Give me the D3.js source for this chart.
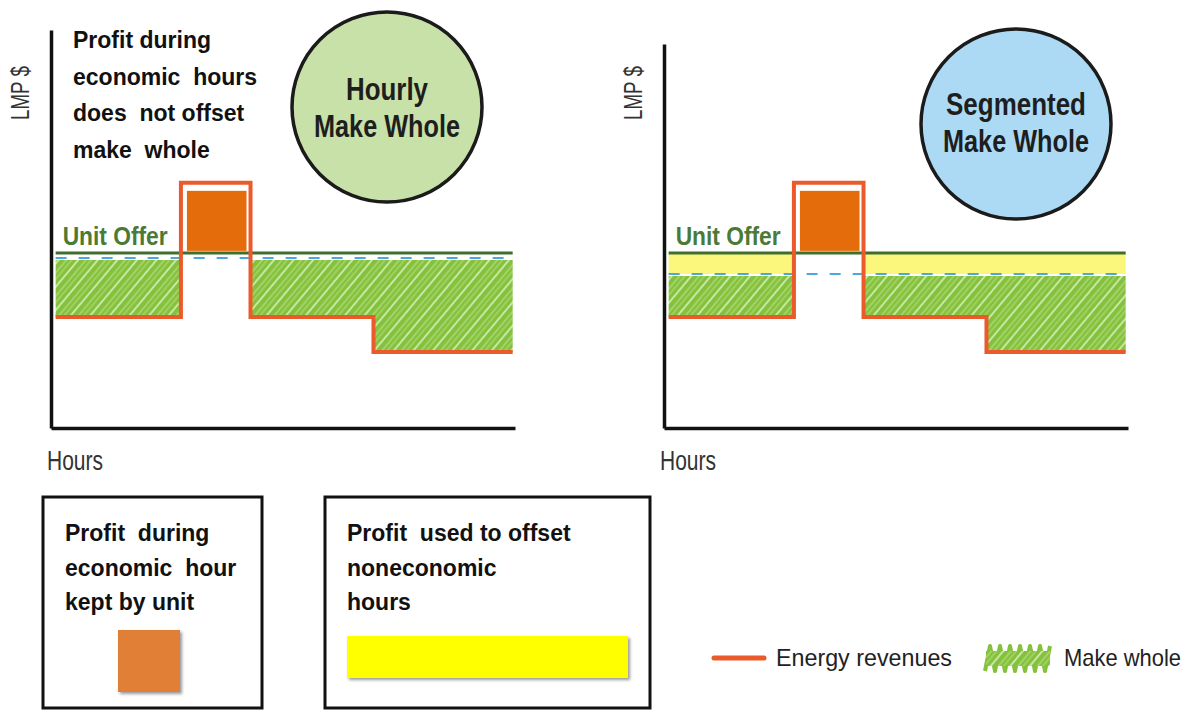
<!DOCTYPE html>
<html>
<head>
<meta charset="utf-8">
<script src="https://cdn.jsdelivr.net/npm/d3@7"></script>
<style>
  body { margin: 0; background: #fff; }
  svg text { font-family: "Liberation Sans", Arial, sans-serif; }
</style>
</head>
<body>
<svg id="chart" width="1194" height="715"></svg>
<script>
// hour boundaries of the price segments (hours on x)
var hourBreaks = [0.2, 5.6, 8.6, 13.9, 19.9];
// energy revenue (LMP $) in each segment
var energyRevenue = [27.9, 61.6, 27.9, 19.1];
var unitOffer = 44.0;
// level of the make whole top (blue dashed) per panel
var hourlyLevel = 42.7;
var segmentedLevel = 38.7;
var panelNames = ["Hourly", "Segmented"];
var circleLines = [["Hourly", "Make Whole"], ["Segmented", "Make Whole"]];
var noteLines = ["Profit during", "economic  hours", "does  not offset", "make  whole"];
var box1Lines = ["Profit  during", "economic  hour", "kept by unit"];
var box2Lines = ["Profit  used to offset", "noneconomic", "hours"];
var legendLabels = ["Energy revenues", "Make whole"];

var orangeLine = "#ea5a2b", profitFill = "#e46c0a", offerGreen = "#3f6e2f",
    dashBlue = "#4ea6dc", hatchGreen = "#84c23c", yellow = "#fbf77c";

// condensed text widths (no narrow font installed, so squeeze with textLength)
var widths = {"Hourly": 82, "Segmented": 140, "Make Whole": 146, "Unit Offer": 105,
              "Hours": 56, "LMP $": 54};

var svg = d3.select("#chart");
var defs = svg.append("defs");

// sketchy hatch pattern
var pat = defs.append("pattern")
  .attr("id", "hatch")
  .attr("patternUnits", "userSpaceOnUse")
  .attr("width", 15).attr("height", 15)
  .attr("patternTransform", "rotate(-50)");
pat.append("rect").attr("width", 15).attr("height", 15).attr("fill", hatchGreen);
pat.append("line").attr("x1", 0).attr("x2", 15).attr("y1", 2).attr("y2", 2)
  .attr("stroke", "#eef8e0").attr("stroke-width", 1.5).attr("opacity", 0.85);
pat.append("line").attr("x1", 0).attr("x2", 15).attr("y1", 8).attr("y2", 8)
  .attr("stroke", "#d9efbd").attr("stroke-width", 1).attr("opacity", 0.7);
pat.append("line").attr("x1", 0).attr("x2", 15).attr("y1", 12).attr("y2", 12)
  .attr("stroke", "#a6d468").attr("stroke-width", 2).attr("opacity", 0.8);

var shadow = defs.append("filter").attr("id", "shadow")
  .attr("x", "-20%").attr("y", "-20%").attr("width", "150%").attr("height", "150%");
shadow.append("feDropShadow").attr("dx", 2).attr("dy", 2).attr("stdDeviation", 1.5)
  .attr("flood-color", "#555").attr("flood-opacity", 0.6);

function squeeze(sel) {
  sel.attr("textLength", function(d) { return widths[d]; })
    .attr("lengthAdjust", "spacingAndGlyphs");
}

var panels = [
  {name: panelNames[0], left: 51, top: 30, level: hourlyLevel, yellow: false,
   circle: {cx: 387, cy: 107, r: 95, fill: "#c7e1a8"}, lines: circleLines[0], textY: 100, lmpX: 29},
  {name: panelNames[1], left: 664, top: 44, level: segmentedLevel, yellow: true,
   circle: {cx: 1016, cy: 124, r: 95, fill: "#acdaf5"}, lines: circleLines[1], textY: 115, lmpX: 642}
];

var bottom = 428, plotW = 464;
var y = d3.scaleLinear().domain([0, 100]).range([bottom, 30]);

panels.forEach(function(p) {
  var x = d3.scaleLinear().domain([0, 20]).range([p.left, p.left + plotW]);
  var yMax = y.invert(p.top);
  var yp = d3.scaleLinear().domain([0, yMax]).range([bottom, p.top]);
  var g = svg.append("g");

  var segs = energyRevenue.map(function(v, i) {
    return {start: hourBreaks[i], end: hourBreaks[i + 1], v: v};
  });
  var stepPts = segs.slice();
  stepPts.push({start: hourBreaks[4], v: energyRevenue[energyRevenue.length - 1]});

  // circle
  g.append("circle").attr("cx", p.circle.cx).attr("cy", p.circle.cy).attr("r", p.circle.r)
    .attr("fill", p.circle.fill).attr("stroke", "#1b1b1b").attr("stroke-width", 3.5);
  g.selectAll(".ctext").data(p.lines).enter().append("text")
    .attr("x", p.circle.cx).attr("y", function(d, i) { return p.textY + i * 37; })
    .attr("text-anchor", "middle").attr("font-size", 31).attr("font-weight", "bold")
    .attr("fill", "#1e1e1e").text(function(d) { return d; })
    .call(squeeze);

  // yellow band (segmented only)
  if (p.yellow) {
    var band = d3.area().curve(d3.curveStepAfter)
      .x(function(d) { return x(d.start); })
      .y0(yp(unitOffer))
      .y1(function(d) { return d.v < unitOffer ? yp(p.level) : yp(unitOffer); });
    g.append("path").attr("d", band(stepPts)).attr("fill", yellow);
  }

  // hatched make whole
  var mw = d3.area().curve(d3.curveStepAfter)
    .x(function(d) { return x(d.start); })
    .y0(yp(p.level) + 2)
    .y1(function(d) { return d.v < p.level ? yp(d.v) : yp(p.level) + 2; });
  g.append("path").attr("d", mw(stepPts)).attr("fill", "url(#hatch)");

  // profit block
  var spike = segs.filter(function(d) { return d.v > unitOffer; });
  g.selectAll(".profit").data(spike).enter().append("rect")
    .attr("x", function(d) { return x(d.start) + 6; })
    .attr("width", function(d) { return x(d.end) - x(d.start) - 10; })
    .attr("y", function(d) { return yp(d.v) + 8; })
    .attr("height", function(d) { return yp(unitOffer) - yp(d.v) - 10; })
    .attr("fill", profitFill);

  // blue dashed
  g.append("line").attr("x1", x(hourBreaks[0])).attr("x2", x(20))
    .attr("y1", yp(p.level)).attr("y2", yp(p.level))
    .attr("stroke", dashBlue).attr("stroke-width", 2).attr("stroke-dasharray", "11,12");

  // unit offer line
  g.append("line").attr("x1", x(hourBreaks[0])).attr("x2", x(hourBreaks[4]))
    .attr("y1", yp(unitOffer)).attr("y2", yp(unitOffer))
    .attr("stroke", offerGreen).attr("stroke-width", 3);
  g.append("text").datum("Unit Offer")
    .attr("x", x(hourBreaks[0]) + 7).attr("y", yp(unitOffer) - 8)
    .attr("font-size", 25).attr("font-weight", "bold").attr("fill", "#4b7a36")
    .text(function(d) { return d; }).call(squeeze);

  // energy revenue step line
  var line = d3.line().curve(d3.curveStepAfter)
    .x(function(d) { return x(d.start); }).y(function(d) { return yp(d.v); });
  g.append("path").attr("d", line(stepPts)).attr("fill", "none")
    .attr("stroke", orangeLine).attr("stroke-width", 4);

  // axes
  g.append("g").attr("transform", "translate(0," + bottom + ")")
    .call(d3.axisBottom(x).ticks(0).tickSizeOuter(0))
    .select(".domain").attr("stroke", "#111").attr("stroke-width", 3.5);
  g.append("g").attr("transform", "translate(" + p.left + ",0)")
    .call(d3.axisLeft(yp).ticks(0).tickSizeOuter(0))
    .select(".domain").attr("stroke", "#111").attr("stroke-width", 3.5);

  g.append("text").datum("LMP $")
    .attr("transform", "translate(" + p.lmpX + ",93) rotate(-90)")
    .attr("text-anchor", "middle").attr("font-size", 25).attr("fill", "#333")
    .text(function(d) { return d; }).call(squeeze);
  g.append("text").datum("Hours")
    .attr("x", p.left - 4).attr("y", 470)
    .attr("font-size", 27).attr("fill", "#333")
    .text(function(d) { return d; }).call(squeeze);
});

// note text, left panel
svg.selectAll(".note").data(noteLines).enter().append("text")
  .attr("x", 73).attr("y", function(d, i) { return 48 + i * 36.5; })
  .attr("font-size", 23).attr("font-weight", "bold").attr("fill", "#111")
  .attr("xml:space", "preserve")
  .text(function(d) { return d; });

// legend boxes
var boxes = [
  {x: 43, w: 219, lines: box1Lines},
  {x: 325, w: 325, lines: box2Lines}
];
boxes.forEach(function(b) {
  svg.append("rect").attr("x", b.x).attr("y", 497).attr("width", b.w).attr("height", 211)
    .attr("fill", "#fff").attr("stroke", "#111").attr("stroke-width", 3);
  svg.selectAll(null).data(b.lines).enter().append("text")
    .attr("x", b.x + 22).attr("y", function(d, i) { return 541 + i * 34.5; })
    .attr("font-size", 23).attr("font-weight", "bold").attr("fill", "#111")
    .attr("xml:space", "preserve")
    .text(function(d) { return d; });
});
svg.append("rect").attr("x", 118).attr("y", 630).attr("width", 62).attr("height", 62)
  .attr("fill", "#e07f36").attr("filter", "url(#shadow)");
svg.append("rect").attr("x", 347).attr("y", 636).attr("width", 281).attr("height", 42)
  .attr("fill", "#ffff00").attr("filter", "url(#shadow)");

// line legend
svg.append("line").attr("x1", 714).attr("x2", 764).attr("y1", 658).attr("y2", 658)
  .attr("stroke", orangeLine).attr("stroke-width", 5).attr("stroke-linecap", "round");
svg.append("text").attr("x", 776).attr("y", 666).attr("font-size", 24)
  .attr("textLength", 176).attr("lengthAdjust", "spacingAndGlyphs")
  .attr("fill", "#222").text(legendLabels[0]);
var zig = [];
for (var k = 0; k < 14; k++) {
  zig.push([985 + k * 5, k % 2 ? 646 : 671]);
}
svg.append("path").attr("d", d3.line()(zig)).attr("fill", "none")
  .attr("stroke", hatchGreen).attr("stroke-width", 4).attr("stroke-linejoin", "round");
svg.append("rect").attr("x", 986).attr("y", 651).attr("width", 64).attr("height", 15)
  .attr("fill", "url(#hatch)");
svg.append("text").attr("x", 1064).attr("y", 666).attr("font-size", 24)
  .attr("textLength", 117).attr("lengthAdjust", "spacingAndGlyphs")
  .attr("fill", "#222").text(legendLabels[1]);
</script>
</body>
</html>
